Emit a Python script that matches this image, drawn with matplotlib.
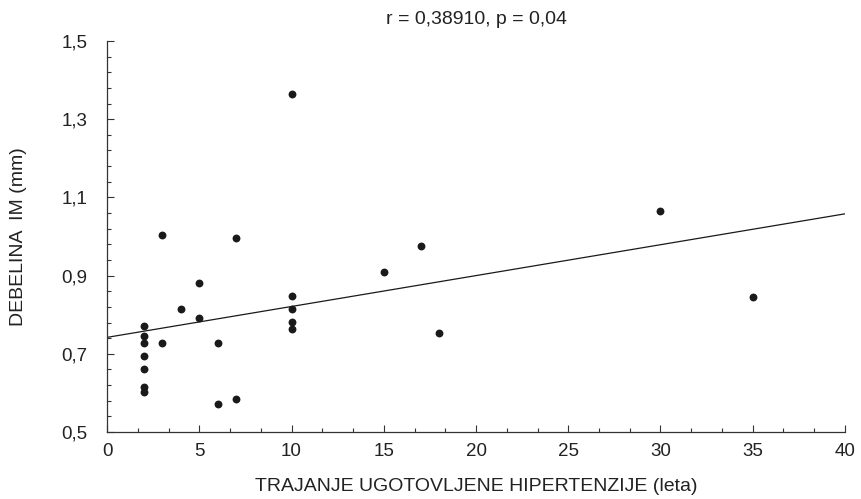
import numpy as np
import matplotlib.pyplot as plt
from matplotlib.ticker import FuncFormatter

plt.rcParams['font.family'] = ['Liberation Sans', 'DejaVu Sans']

# trajanje hipertenzije (leta) in debelina IM (mm)
leta = [2, 2, 2, 2, 2, 2, 2, 3, 3, 4, 5, 5, 6, 6, 7, 7,
        10, 10, 10, 10, 10, 15, 17, 18, 30, 35]
debelina = [0.771, 0.746, 0.728, 0.695, 0.660, 0.614, 0.602, 0.728, 1.005,
            0.814, 0.792, 0.881, 0.728, 0.572, 0.584, 0.996,
            1.364, 0.848, 0.814, 0.781, 0.763, 0.908, 0.975, 0.754, 1.065, 0.845]

# regresijska premica, odcitana s slike
intercept = 0.742
slope = 0.0079

x_major = [0, 5, 10, 15, 20, 25, 30, 35, 40]
y_major = [0.5, 0.7, 0.9, 1.1, 1.3, 1.5]

fig = plt.figure(figsize=(8.61, 4.99), dpi=100)
ax = fig.add_axes([0.1243, 0.1343, 0.8571, 0.7835])

ax.scatter(leta, debelina, s=32, color='#1a1a1a', zorder=3, linewidths=0)
xl = np.array([0, 40])
ax.plot(xl, intercept + slope * xl, color='#1a1a1a', lw=0.9)

ax.set_xlim(0, 40)
ax.set_ylim(0.5, 1.5)
ax.set_xticks(x_major)
ax.set_xticks(np.arange(0, 40.01, 5 / 3), minor=True)
ax.set_yticks(y_major)
ax.set_yticks(np.arange(0.5, 1.501, 0.04), minor=True)
ax.yaxis.set_major_formatter(FuncFormatter(lambda v, p: f'{v:.1f}'.replace('.', ',')))

for s in ['top', 'right']:
    ax.spines[s].set_visible(False)
for s in ['left', 'bottom']:
    ax.spines[s].set_color('#333333')
    ax.spines[s].set_linewidth(0.9)

ax.tick_params(which='both', direction='in', color='#333333', labelsize=13.5, labelcolor='#222222')
ax.tick_params(which='major', length=5, width=0.8)
ax.tick_params(which='minor', length=3, width=0.8)
ax.tick_params(axis='x', which='major', pad=8)
ax.tick_params(axis='y', which='major', pad=14)

ax.set_xlabel('TRAJANJE UGOTOVLJENE HIPERTENZIJE (leta)', fontsize=14, color='#222222')
ax.set_ylabel('DEBELINA  IM (mm)', fontsize=14, color='#222222')
ax.xaxis.set_label_coords(0.5, -0.118)
ax.yaxis.set_label_coords(-0.108, 0.5)
ax.set_title('r = 0,38910, p = 0,04', fontsize=14, pad=12, color='#222222')

fig.savefig('out.png', dpi=100)
